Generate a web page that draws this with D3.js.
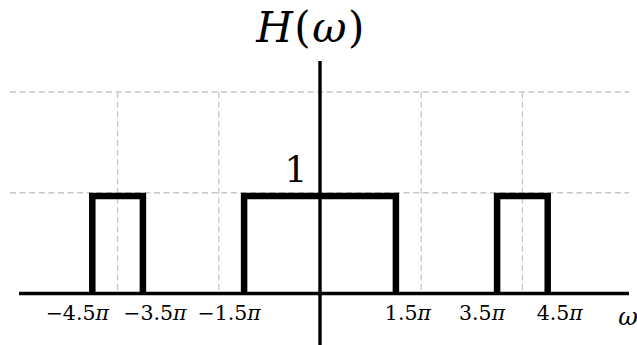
<!DOCTYPE html>
<html>
<head>
<meta charset="utf-8">
<script src="https://cdn.jsdelivr.net/npm/d3@7"></script>
<style>
  html, body { margin: 0; padding: 0; background: #fff; }
  svg { display: block; }
  text { font-family: "DejaVu Serif", "Liberation Serif", serif; fill: #000; }
</style>
</head>
<body>
<svg id="chart" width="637" height="345"></svg>
<script>
// Ideal filter response: pass bands in units of π and their gain
const bandStart = [-4.5, -1.5, 3.5];
const bandEnd   = [-3.5,  1.5, 4.5];
const bandGain  = [1, 1, 1];

// Band-edge tick values (units of π) and guide lines
const edgeTicks = [-4.5, -3.5, -1.5, 1.5, 3.5, 4.5];
const gridX = [-4, -2, 2, 4];
const gridY = [1, 2];
const gainLabel = "1";

const svg = d3.select("#chart");
const W = 637, H = 345;

const x = d3.scaleLinear().domain([-4.5, 4.5]).range([92.3, 547.7]);
const y = d3.scaleLinear().domain([0, 2]).range([293.5, 92]);

const bands = bandStart.map((s, i) => ({ s, e: bandEnd[i], g: bandGain[i] }));

// Dashed guide lines
const grid = svg.append("g").attr("stroke", "#c6c6c6").attr("stroke-width", 1.3)
  .attr("stroke-dasharray", "6,3.6").attr("fill", "none");
grid.selectAll("line.h").data(gridY).join("line")
  .attr("class", "h")
  .attr("x1", 10).attr("x2", 629)
  .attr("y1", d => y(d)).attr("y2", d => y(d));
grid.selectAll("line.v").data(gridX).join("line")
  .attr("class", "v")
  .attr("x1", d => x(d)).attr("x2", d => x(d))
  .attr("y1", y(2)).attr("y2", y(0));

// Axes
svg.append("line")
  .attr("x1", 19).attr("x2", 629)
  .attr("y1", y(0)).attr("y2", y(0))
  .attr("stroke", "#000").attr("stroke-width", 3.6);
svg.append("line")
  .attr("x1", x(0)).attr("x2", x(0))
  .attr("y1", 61).attr("y2", H)
  .attr("stroke", "#000").attr("stroke-width", 3.4);

// Pass-band outlines (stroke kept below the gain level)
const sw = 6.5;
svg.append("g").selectAll("path").data(bands).join("path")
  .attr("fill", "none").attr("stroke", "#000").attr("stroke-width", sw)
  .attr("stroke-linejoin", "miter")
  .attr("d", d => {
    const top = y(d.g) + sw / 2;
    return `M${x(d.s)},${y(0)} L${x(d.s)},${top} L${x(d.e)},${top} L${x(d.e)},${y(0)}`;
  });

// Band-edge labels, nudged outward from each edge
const isStart = v => bandStart.includes(v);
const fmt = v => (v < 0 ? "\u2212" : "") + Math.abs(v);
const labels = svg.append("g").attr("font-size", 20.5).attr("text-anchor", "middle");
edgeTicks.forEach(v => {
  const t = labels.append("text")
    .attr("x", x(v) + (isStart(v) ? -15 : 12))
    .attr("y", 319.5);
  t.append("tspan").text(fmt(v));
  t.append("tspan").attr("font-style", "italic").text("\u03c0");
});

// Gain label
svg.append("text")
  .attr("x", 296).attr("y", 181.5)
  .attr("font-size", 36).attr("text-anchor", "middle")
  .text(gainLabel);

// Axis titles
const title = svg.append("text")
  .attr("x", 311).attr("y", 42)
  .attr("font-size", 42).attr("letter-spacing", 1.5).attr("text-anchor", "middle");
title.append("tspan").attr("font-style", "italic").text("H");
title.append("tspan").text("(");
title.append("tspan").attr("font-style", "italic").text("\u03c9");
title.append("tspan").text(")");

svg.append("text")
  .attr("x", 628).attr("y", 325)
  .attr("font-size", 24).attr("font-style", "italic").attr("text-anchor", "middle")
  .text("\u03c9");
</script>
</body>
</html>
